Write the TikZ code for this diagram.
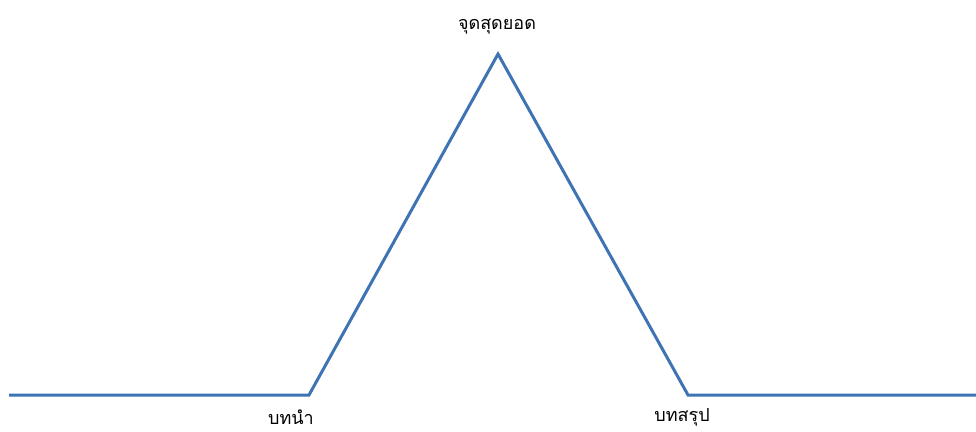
\documentclass[tikz,border=0pt]{standalone}
\usepackage{fontspec}
\newfontfamily\thaifont[Script=Thai]{Loma}
\usepackage{tikz}
\usetikzlibrary{positioning, calc}
\definecolor{plotblue}{RGB}{62, 115, 180}

\begin{document}
\begin{tikzpicture}[x=1pt, y=-1pt,
    curve/.style={draw=plotblue, line width=3pt, line join=miter},
    lbl/.style={font=\thaifont\fontsize{18}{21}\selectfont, inner sep=0pt},
]
    \useasboundingbox (0,0) rectangle (976,431);

    \coordinate (start) at (9,395);
    \coordinate (rise)  at (309,395);
    \coordinate (peak)  at (498,54);
    \coordinate (fall)  at (688,395);
    \coordinate (end)   at (976,395);

    \draw[curve] (start) -- (rise) -- (peak) -- (fall) -- (end);

    \node[lbl] (climax) at (497,27)  {จุดสุดยอด};
    \node[lbl] (intro)  at (291,417) {บทนำ};
    \node[lbl] (concl)  at (682,417) {บทสรุป};
\end{tikzpicture}
\end{document}
